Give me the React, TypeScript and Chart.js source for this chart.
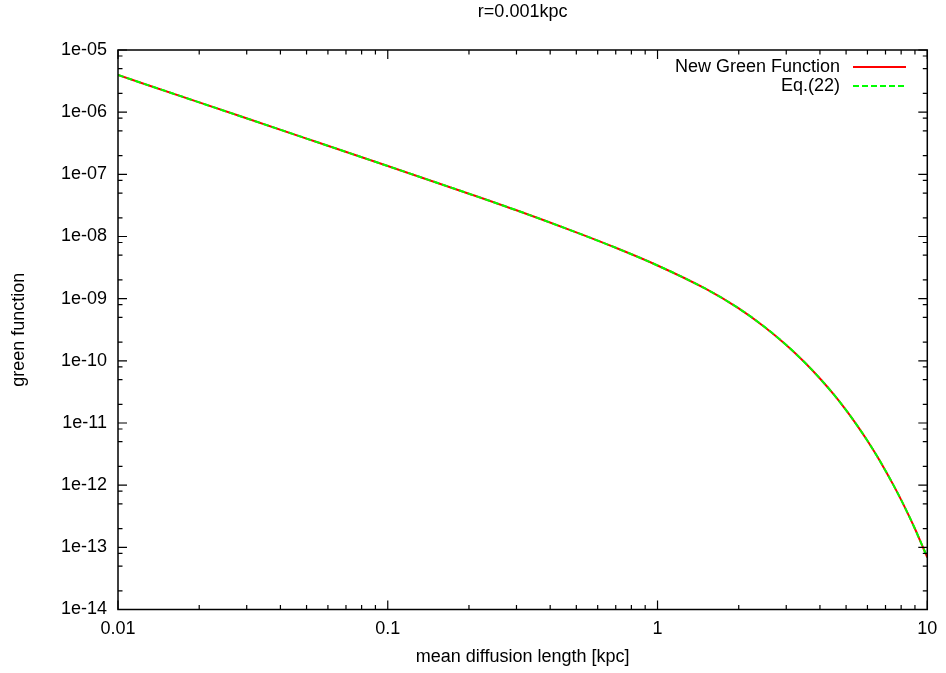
import React, { useEffect, useRef } from "react";
import { Chart, registerables } from "chart.js";
Chart.register(...registerables);

const titleText = "r=0.001kpc";
const xAxisLabel = "mean diffusion length [kpc]";
const yAxisLabel = "green function";
const seriesNames = ["New Green Function", "Eq.(22)"];

const lengthKpc = [0.01, 0.02, 0.05, 0.1, 0.2, 0.3, 0.5, 0.7, 1, 1.5, 2, 2.5, 3, 3.5, 4, 4.5, 5, 5.5, 6, 6.5, 7, 7.5, 8, 8.5, 9, 9.5, 10];
const newGreen = [3.96e-6, 1.436e-6, 3.76e-7, 1.36e-7, 4.88e-8, 2.64e-8, 1.164e-8, 6.58e-9, 3.42e-9, 1.458e-9, 6.98e-10, 3.48e-10, 1.8e-10, 9.58e-11, 5.2e-11, 2.88e-11, 1.61e-11, 9.09e-12, 5.18e-12, 2.97e-12, 1.71e-12, 9.92e-13, 5.8e-13, 3.39e-13, 1.99e-13, 1.16e-13, 6.87e-14];
const eq22 = [3.96e-6, 1.436e-6, 3.76e-7, 1.36e-7, 4.88e-8, 2.64e-8, 1.164e-8, 6.58e-9, 3.42e-9, 1.458e-9, 6.98e-10, 3.48e-10, 1.8e-10, 9.58e-11, 5.2e-11, 2.88e-11, 1.61e-11, 9.09e-12, 5.18e-12, 2.97e-12, 1.71e-12, 9.92e-13, 5.8e-13, 3.39e-13, 1.99e-13, 1.16e-13, 6.87e-14];

const xTicks = [0.01, 0.1, 1, 10];
const xTickLabels = ["0.01", "0.1", "1", "10"];
const yTicks = [1e-14, 1e-13, 1e-12, 1e-11, 1e-10, 1e-9, 1e-8, 1e-7, 1e-6, 1e-5];
const yTickLabels = ["1e-14", "1e-13", "1e-12", "1e-11", "1e-10", "1e-09", "1e-08", "1e-07", "1e-06", "1e-05"];
const xMinorMultipliers = [2, 3, 4, 5, 6, 7, 8, 9];
const yMinorMultipliers = [2, 5, 8];

const FONT = "'Liberation Sans', Arial, sans-serif";
const FS = 18;

const framePlugin = {
  id: "gnuplotFrame",
  afterDraw(chart: any) {
    const { ctx, chartArea } = chart;
    const { left, right, top, bottom } = chartArea;
    const xs = chart.scales.x;
    const ys = chart.scales.y;
    ctx.save();
    ctx.strokeStyle = "#000";
    ctx.lineWidth = 1.5;
    ctx.strokeRect(left, top, right - left, bottom - top);
    const major = 9;
    const minor = 4.5;
    ctx.lineWidth = 1.2;
    ctx.beginPath();
    const xTick = (v: number, len: number) => {
      const px = xs.getPixelForValue(v);
      ctx.moveTo(px, bottom);
      ctx.lineTo(px, bottom - len);
      ctx.moveTo(px, top);
      ctx.lineTo(px, top + len);
    };
    const yTick = (v: number, len: number) => {
      const py = ys.getPixelForValue(v);
      ctx.moveTo(left, py);
      ctx.lineTo(left + len, py);
      ctx.moveTo(right, py);
      ctx.lineTo(right - len, py);
    };
    xTicks.forEach((v, i) => {
      xTick(v, major);
      if (i < xTicks.length - 1) xMinorMultipliers.forEach((m) => xTick(v * m, minor));
    });
    yTicks.forEach((v, i) => {
      yTick(v, major);
      if (i < yTicks.length - 1) yMinorMultipliers.forEach((m) => yTick(v * m, minor));
    });
    ctx.stroke();

    // title
    ctx.fillStyle = "#000";
    ctx.font = `${FS}px ${FONT}`;
    ctx.textAlign = "center";
    ctx.textBaseline = "middle";
    ctx.fillText(titleText, (left + right) / 2, 12);

    // legend
    const textRight = 840;
    const rows = [67, 86];
    const colors = ["#ff0000", "#00ff00"];
    const dashes = [[], [6, 3]];
    ctx.textAlign = "right";
    seriesNames.forEach((name, i) => {
      ctx.fillStyle = "#000";
      ctx.fillText(name, textRight, rows[i]);
      ctx.beginPath();
      ctx.strokeStyle = colors[i];
      ctx.lineWidth = 2;
      ctx.setLineDash(dashes[i]);
      ctx.moveTo(853, rows[i]);
      ctx.lineTo(906, rows[i]);
      ctx.stroke();
    });
    ctx.setLineDash([]);
    ctx.restore();
  },
};

export default function App() {
  const ref = useRef<HTMLCanvasElement | null>(null);
  useEffect(() => {
    if (!ref.current) return;
    const chart = new Chart(ref.current, {
      type: "line",
      data: {
        datasets: [
          {
            label: seriesNames[0],
            data: lengthKpc.map((x, i) => ({ x, y: newGreen[i] })),
            borderColor: "#ff0000",
            borderWidth: 2,
            pointRadius: 0,
            cubicInterpolationMode: "monotone",
            fill: false,
            order: 2,
          },
          {
            label: seriesNames[1],
            data: lengthKpc.map((x, i) => ({ x, y: eq22[i] })),
            borderColor: "#00ff00",
            borderWidth: 2,
            borderDash: [6, 3],
            pointRadius: 0,
            cubicInterpolationMode: "monotone",
            fill: false,
            order: 1,
          },
        ],
      },
      options: {
        responsive: false,
        animation: false,
        devicePixelRatio: 1,
        layout: { padding: { left: 0, right: 18, top: 50, bottom: 0 } },
        plugins: { legend: { display: false }, title: { display: false }, tooltip: { enabled: false } },
        scales: {
          x: {
            type: "logarithmic",
            min: 0.01,
            max: 10,
            afterFit: (s: any) => { s.height = 63.5; },
            afterBuildTicks: (s: any) => { s.ticks = xTicks.map((v) => ({ value: v })); },
            grid: { display: false, drawTicks: false },
            border: { display: false },
            ticks: {
              autoSkip: false,
              maxRotation: 0,
              padding: 8.7,
              color: "#000",
              font: { family: FONT, size: FS },
              callback: (_v: any, i: number) => xTickLabels[i],
            },
            title: {
              display: true,
              text: xAxisLabel,
              color: "#000",
              font: { family: FONT, size: FS },
              padding: { top: 0, bottom: 5.2 },
            },
          },
          y: {
            type: "logarithmic",
            min: 1e-14,
            max: 1e-5,
            afterFit: (s: any) => { s.width = 118; },
            afterBuildTicks: (s: any) => { s.ticks = yTicks.map((v) => ({ value: v })); },
            grid: { display: false, drawTicks: false },
            border: { display: false },
            ticks: {
              autoSkip: false,
              padding: 11,
              color: "#000",
              font: { family: FONT, size: FS },
              callback: (_v: any, i: number) => yTickLabels[i],
            },
            title: {
              display: true,
              text: yAxisLabel,
              color: "#000",
              font: { family: FONT, size: FS },
              padding: { top: 8.5, bottom: 0 },
            },
          },
        },
      },
      plugins: [framePlugin],
    } as any);
    return () => chart.destroy();
  }, []);
  return (
    <div style={{ position: "fixed", left: 0, top: 0, width: 946, height: 673, background: "#fff" }}>
      <canvas ref={ref} width={946} height={673} style={{ width: 946, height: 673, display: "block" }} />
    </div>
  );
}
